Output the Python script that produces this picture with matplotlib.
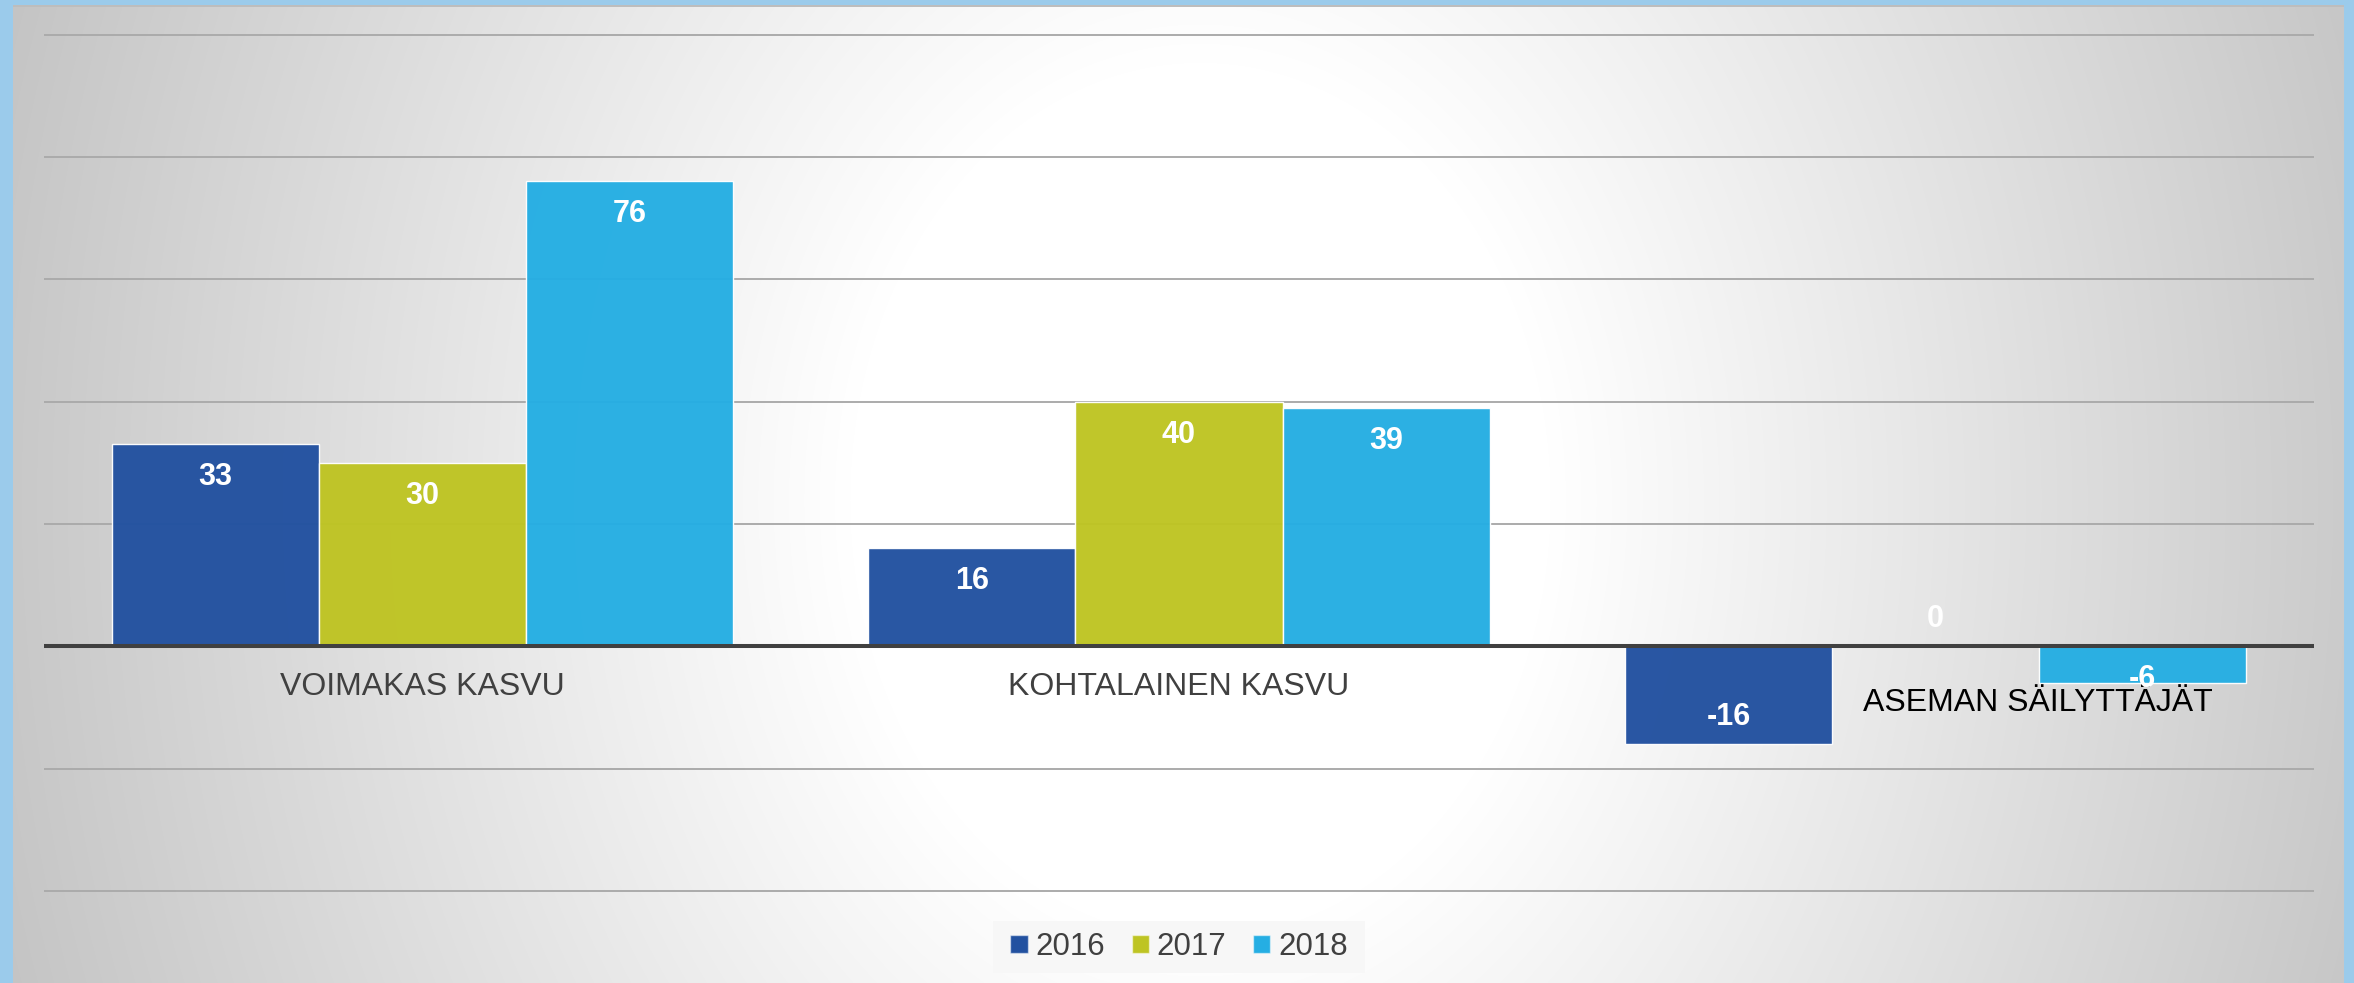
import numpy as np
import matplotlib
matplotlib.use("Agg")
import matplotlib.pyplot as plt
from matplotlib.patches import Patch, Rectangle

# ---- data ----
categories = ["VOIMAKAS KASVU", "KOHTALAINEN KASVU", "ASEMAN SÄILYTTÄJÄT"]
years = ["2016", "2017", "2018"]
v2016 = [33, 16, -16]
v2017 = [30, 40, 0]
v2018 = [76, 39, -6]
series = [v2016, v2017, v2018]
colors = ["#2251A0", "#BEC423", "#25AEE3"]
label_colors = ["#404040", "#404040", "#000000"]

W, H = 2354, 983
fig = plt.figure(figsize=(W / 100, H / 100), dpi=100)

# ---- background: radial gradient + blue frame ----
bg = fig.add_axes([0, 0, 1, 1], zorder=0)
bg.axis("off")
yy, xx = np.mgrid[0:H, 0:W]
r = np.hypot(xx - 1200, (yy - 500) * 0.8)
t = np.clip((r - 350) / (1250 - 350), 0, 1)
g = 1 - 0.23 * t
bg.imshow(np.dstack([g, g, g]), extent=(0, W, H, 0), aspect="auto",
          interpolation="bilinear")
bg.set_xlim(0, W)
bg.set_ylim(H, 0)
frame_c = "#9BCBEB"
bg.add_patch(Rectangle((13, 5), W - 23, 2, color="#BDBDBD", lw=0))
bg.add_patch(Rectangle((0, 0), 13, H, color=frame_c, lw=0))
bg.add_patch(Rectangle((0, 0), W, 5, color=frame_c, lw=0))
bg.add_patch(Rectangle((W - 10, 0), 10, H, color=frame_c, lw=0))

# ---- main axes ----
top_px, bot_px = 22.3, 903.2
ax = fig.add_axes([44 / W, 1 - bot_px / H, 2270 / W, (bot_px - top_px) / H], zorder=1)
ax.patch.set_alpha(0)
ymin, ymax = -42, 102
ax.set_ylim(ymin, ymax)
ax.set_xlim(-0.5, 2.5)
for s in ax.spines.values():
    s.set_visible(False)
ax.set_yticks(np.arange(-40, 101, 20))
ax.set_yticklabels([])
ax.set_xticks([])
ax.tick_params(length=0)
ax.yaxis.grid(True, color="#ABABAB", linewidth=1.4, zorder=0)
ax.set_axisbelow(True)

ppu = (bot_px - top_px) / (ymax - ymin)  # pixels per data unit
off = 30 / ppu

x = np.arange(len(categories))
bw = 0.2736
for i, (vals, c, yr) in enumerate(zip(series, colors, years)):
    xs = x + (i - 1) * bw
    ax.bar(xs, vals, width=bw, color=c, alpha=0.97,
           edgecolor=(1, 1, 1, 0.55), linewidth=1.0, zorder=2, label=yr)
    for xi, v in zip(xs, vals):
        yc = max(v - off, off) if v >= 0 else min(v + off, -off)
        ax.annotate(f"{v}", (xi, yc), xytext=(0, -11), textcoords="offset pixels",
                    ha="center", va="baseline", color="white", fontsize=22,
                    fontweight="bold", family="Liberation Sans", zorder=4)

ax.axhline(0, color="#404040", linewidth=2.9, zorder=3)

# category labels
ax.annotate(categories[0], (0, 0), xytext=(0, -49), textcoords="offset pixels",
            ha="center", va="baseline", fontsize=23, color=label_colors[0],
            family="Liberation Sans", zorder=3)
ax.annotate(categories[1], (1, 0), xytext=(0, -49), textcoords="offset pixels",
            ha="center", va="baseline", fontsize=23, color=label_colors[1],
            family="Liberation Sans", zorder=3)
ax.annotate(categories[2], (2.135, 0), xytext=(0, -65), textcoords="offset pixels",
            ha="center", va="baseline", fontsize=23, color=label_colors[2],
            family="Liberation Sans", zorder=3)

# legend
bg.add_patch(Rectangle((993, 921), 372, 52, color="#F7F7F7", lw=0, zorder=2))
handles = [Patch(facecolor=c, edgecolor=(1, 1, 1, 0.5), linewidth=1) for c in colors]
fig.legend(handles, years, loc="center", bbox_to_anchor=(1179 / W, 1 - 947 / H),
           ncol=3, frameon=False, prop={"family": "Liberation Sans", "size": 22.5},
           labelcolor="#404040", handlelength=0.55, handleheight=0.55,
           handletextpad=0.25, columnspacing=0.85)

fig.savefig("out.png", dpi=100)
